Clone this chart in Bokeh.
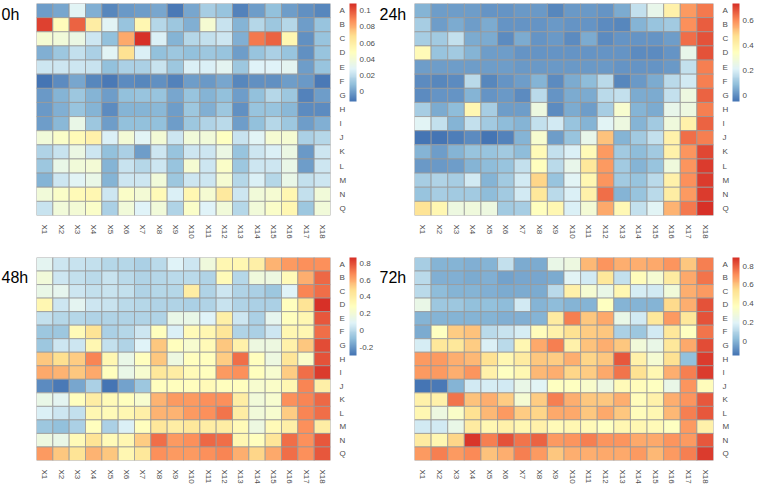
import math
from bokeh.plotting import figure
from bokeh.models import (LinearColorMapper, ColorBar, FixedTicker, Label, Range1d,
                          NumeralTickFormatter, ColumnDataSource, FactorRange)
from bokeh.layouts import gridplot
from bokeh.transform import transform
from bokeh.embed import file_html
from bokeh.resources import INLINE

cols = ["X1", "X2", "X3", "X4", "X5", "X6", "X7", "X8", "X9", "X10",
        "X11", "X12", "X13", "X14", "X15", "X16", "X17", "X18"]
rows = ["A", "B", "C", "D", "E", "F", "G", "H", "I", "J", "K", "L", "M", "N", "Q"]

v0h = [
    [0.000, 0.002, 0.030, 0.004, -0.007, -0.002, 0.000, 0.002, -0.010, 0.002, 0.014, 0.010, -0.008, 0.000, 0.009, 0.000, -0.004, -0.006],
    [0.105, 0.050, 0.097, 0.060, 0.030, 0.010, 0.054, 0.018, 0.012, 0.004, 0.042, 0.022, 0.006, 0.018, 0.012, 0.018, 0.000, 0.010],
    [0.042, 0.039, 0.036, 0.024, 0.009, 0.082, 0.109, 0.027, 0.006, 0.018, 0.021, 0.024, 0.004, 0.093, 0.097, 0.054, -0.004, 0.010],
    [0.004, 0.012, 0.021, 0.015, 0.030, 0.067, 0.027, 0.009, 0.012, 0.009, 0.012, 0.010, 0.000, 0.010, 0.015, 0.010, -0.004, 0.010],
    [0.024, 0.024, 0.024, 0.022, 0.009, 0.015, 0.015, 0.022, 0.012, 0.027, 0.027, 0.031, 0.012, 0.028, 0.028, 0.031, 0.000, 0.010],
    [-0.012, -0.005, 0.002, -0.006, -0.010, -0.005, -0.007, -0.004, -0.008, -0.001, -0.002, 0.002, -0.007, -0.004, -0.004, 0.000, -0.002, -0.010],
    [-0.002, 0.006, 0.012, 0.006, 0.000, 0.009, 0.010, 0.010, 0.002, 0.010, 0.006, 0.009, 0.000, 0.009, 0.018, 0.012, -0.008, 0.000],
    [-0.002, 0.004, 0.010, 0.006, -0.005, 0.005, 0.005, 0.007, -0.001, 0.012, 0.004, 0.012, -0.004, 0.010, 0.010, 0.007, -0.005, -0.005],
    [0.000, 0.007, 0.034, 0.012, -0.001, 0.009, 0.009, 0.009, -0.001, 0.012, 0.016, 0.019, -0.001, 0.009, 0.018, 0.012, 0.000, 0.004],
    [0.039, 0.045, 0.051, 0.057, 0.027, 0.041, 0.030, 0.041, 0.024, 0.039, 0.039, 0.048, 0.022, 0.030, 0.042, 0.042, 0.015, 0.018],
    [0.016, 0.022, 0.036, 0.024, 0.009, 0.015, 0.000, 0.024, 0.010, 0.024, 0.024, 0.036, 0.010, 0.024, 0.027, 0.036, -0.002, 0.024],
    [0.012, 0.034, 0.039, 0.041, 0.006, 0.022, 0.018, 0.024, 0.010, 0.042, 0.024, 0.046, 0.012, 0.024, 0.024, 0.034, 0.000, 0.024],
    [0.006, 0.024, 0.030, 0.034, 0.005, 0.024, 0.024, 0.039, 0.012, 0.024, 0.024, 0.042, 0.018, 0.027, 0.018, 0.034, 0.021, 0.024],
    [0.039, 0.045, 0.051, 0.054, 0.024, 0.045, 0.041, 0.052, 0.027, 0.054, 0.042, 0.063, 0.024, 0.039, 0.042, 0.054, 0.021, 0.039],
    [0.022, 0.039, 0.041, 0.045, 0.015, 0.039, 0.028, 0.039, 0.017, 0.045, 0.028, 0.039, 0.018, 0.039, 0.045, 0.054, 0.012, 0.039],
]

v24h = [
    [0.07, 0.03, 0.03, 0.03, 0.01, 0.01, 0.02, 0.02, -0.01, 0.02, 0.02, 0.01, 0.05, 0.165, 0.25, 0.405, 0.58, 0.63],
    [0.125, 0.03, 0.05, 0.025, 0.055, 0.01, 0.01, 0.01, 0.02, 0.01, 0.01, 0.0, -0.01, 0.065, 0.095, 0.11, 0.60, 0.67],
    [0.125, 0.11, 0.165, 0.055, 0.05, 0.0, 0.055, 0.01, 0.02, 0.0, 0.05, 0.0, 0.01, 0.01, 0.01, 0.03, 0.64, 0.68],
    [0.36, 0.095, 0.11, 0.065, 0.03, 0.025, 0.01, 0.01, 0.01, 0.01, 0.01, 0.01, 0.01, 0.0, 0.0, 0.01, 0.25, 0.68],
    [0.03, 0.025, 0.025, 0.025, 0.025, 0.025, 0.02, 0.02, 0.02, 0.02, 0.02, 0.02, 0.01, 0.01, 0.01, 0.02, 0.165, 0.62],
    [0.0, -0.01, 0.0, 0.15, -0.01, 0.01, 0.03, 0.065, 0.0, 0.055, 0.085, 0.15, -0.01, 0.02, 0.05, 0.15, 0.19, 0.62],
    [0.0, 0.01, 0.01, 0.07, 0.01, 0.02, 0.0, 0.15, 0.01, 0.055, 0.055, 0.15, 0.17, 0.055, 0.055, 0.17, 0.27, 0.66],
    [0.125, 0.055, 0.085, 0.38, 0.125, 0.025, 0.025, 0.27, 0.0, 0.05, 0.03, 0.125, 0.305, 0.07, 0.055, 0.25, 0.27, 0.62],
    [0.225, 0.17, 0.065, 0.17, 0.11, 0.085, 0.07, 0.17, 0.19, 0.095, 0.07, 0.225, 0.27, 0.07, 0.11, 0.28, 0.405, 0.66],
    [-0.046, -0.046, -0.023, 0.0, -0.04, -0.015, 0.065, 0.305, 0.03, 0.095, 0.25, 0.515, 0.065, 0.11, 0.17, 0.40, 0.64, 0.62],
    [0.065, 0.03, 0.07, 0.095, 0.095, 0.11, 0.085, 0.36, 0.17, 0.205, 0.36, 0.58, 0.11, 0.085, 0.11, 0.40, 0.59, 0.695],
    [0.02, 0.02, 0.03, 0.07, 0.085, 0.095, 0.165, 0.345, 0.15, 0.25, 0.44, 0.58, 0.11, 0.07, 0.095, 0.28, 0.59, 0.71],
    [0.125, 0.14, 0.125, 0.19, 0.07, 0.11, 0.19, 0.485, 0.095, 0.225, 0.38, 0.59, 0.11, 0.095, 0.15, 0.405, 0.60, 0.71],
    [0.095, 0.125, 0.11, 0.11, 0.085, 0.11, 0.19, 0.44, 0.15, 0.205, 0.40, 0.64, 0.07, 0.095, 0.15, 0.42, 0.58, 0.71],
    [0.46, 0.38, 0.27, 0.28, 0.27, 0.11, 0.125, 0.345, 0.38, 0.21, 0.29, 0.56, 0.37, 0.165, 0.225, 0.54, 0.63, 0.733],
]

v48h = [
    [0.11, 0.05, 0.03, 0.02, -0.01, -0.01, -0.04, 0.0, 0.09, 0.04, 0.19, 0.34, 0.34, 0.38, 0.58, 0.64, 0.66, 0.67],
    [0.20, 0.05, 0.02, 0.0, 0.03, 0.0, -0.02, -0.01, 0.0, 0.0, -0.02, 0.31, -0.01, 0.19, 0.17, 0.31, 0.60, 0.75],
    [0.145, 0.13, 0.05, 0.02, 0.03, 0.02, -0.02, -0.01, -0.01, 0.40, -0.02, 0.05, -0.02, -0.04, -0.07, 0.09, 0.69, 0.73],
    [0.34, 0.05, 0.11, 0.05, 0.03, 0.0, -0.01, -0.03, -0.03, -0.04, -0.02, 0.03, -0.03, -0.04, -0.04, 0.285, 0.46, 0.87],
    [0.02, -0.01, -0.01, -0.02, -0.02, -0.03, -0.03, -0.02, 0.145, 0.145, 0.09, 0.38, 0.05, -0.04, 0.13, 0.285, 0.34, 0.78],
    [-0.07, -0.07, 0.31, 0.46, -0.04, -0.01, 0.05, 0.285, 0.075, 0.32, 0.34, 0.44, -0.02, -0.04, 0.05, 0.34, 0.34, 0.73],
    [-0.07, 0.05, 0.05, 0.34, 0.02, -0.02, 0.09, 0.54, 0.285, 0.23, 0.31, 0.54, 0.37, 0.17, 0.17, 0.37, 0.54, 0.81],
    [0.54, 0.48, 0.52, 0.69, 0.34, 0.145, 0.285, 0.54, 0.17, 0.285, 0.285, 0.52, 0.73, 0.285, 0.17, 0.44, 0.26, 0.79],
    [0.61, 0.58, 0.54, 0.61, 0.285, 0.145, 0.23, 0.43, 0.40, 0.31, 0.285, 0.64, 0.67, 0.285, 0.23, 0.52, 0.73, 0.835],
    [-0.24, -0.28, -0.16, -0.04, -0.29, -0.18, -0.07, 0.285, 0.285, 0.285, 0.31, 0.285, 0.285, 0.23, 0.26, 0.34, 0.69, 0.38],
    [0.145, 0.11, 0.285, 0.40, 0.31, 0.285, 0.23, 0.58, 0.64, 0.64, 0.66, 0.66, 0.40, 0.20, 0.23, 0.67, 0.69, 0.75],
    [0.075, 0.05, 0.02, 0.34, 0.31, 0.34, 0.38, 0.58, 0.58, 0.64, 0.66, 0.72, 0.40, 0.20, 0.23, 0.52, 0.69, 0.73],
    [-0.07, -0.09, -0.04, 0.285, -0.04, 0.075, 0.285, 0.43, 0.40, 0.43, 0.40, 0.40, 0.31, 0.17, 0.31, 0.38, 0.66, 0.40],
    [0.17, 0.145, 0.31, 0.46, 0.31, 0.34, 0.52, 0.73, 0.64, 0.66, 0.75, 0.73, 0.34, 0.285, 0.44, 0.73, 0.67, 0.78],
    [0.64, 0.54, 0.46, 0.58, 0.54, 0.34, 0.43, 0.67, 0.64, 0.64, 0.67, 0.69, 0.60, 0.50, 0.61, 0.73, 0.67, 0.78],
]

v72h = [
    [0.08, 0.01, 0.01, -0.01, 0.0, 0.135, -0.02, -0.02, 0.25, 0.27, 0.63, 0.70, 0.65, 0.65, 0.66, 0.70, 0.60, 0.735],
    [0.114, -0.01, -0.01, -0.02, -0.01, -0.04, -0.03, -0.03, -0.02, 0.217, 0.166, 0.50, 0.135, 0.39, 0.32, 0.476, 0.66, 0.765],
    [0.114, 0.03, 0.01, 0.0, -0.01, -0.02, -0.02, -0.02, 0.114, 0.445, 0.32, 0.25, 0.424, 0.186, 0.166, 0.29, 0.65, 0.683],
    [0.25, 0.06, 0.06, 0.04, 0.04, 0.03, 0.166, 0.0, 0.03, 0.01, 0.01, 0.37, 0.01, 0.0, 0.0, 0.55, 0.65, 0.82],
    [0.01, 0.01, 0.0, 0.0, 0.0, -0.01, -0.01, 0.0, 0.476, 0.735, 0.60, 0.66, 0.25, 0.166, 0.50, 0.683, 0.50, 0.82],
    [-0.02, 0.37, 0.58, 0.61, 0.114, 0.145, 0.186, 0.39, 0.455, 0.528, 0.58, 0.60, 0.093, 0.06, 0.166, 0.50, 0.37, 0.765],
    [0.186, 0.507, 0.50, 0.58, 0.196, 0.114, 0.424, 0.66, 0.735, 0.455, 0.61, 0.65, 0.60, 0.29, 0.25, 0.507, 0.66, 0.838],
    [0.683, 0.683, 0.65, 0.631, 0.528, 0.424, 0.476, 0.60, 0.58, 0.65, 0.56, 0.60, 0.81, 0.455, 0.32, 0.528, 0.04, 0.86],
    [0.683, 0.683, 0.65, 0.70, 0.445, 0.37, 0.424, 0.631, 0.65, 0.56, 0.58, 0.66, 0.765, 0.528, 0.424, 0.65, 0.735, 0.86],
    [-0.145, -0.125, 0.01, 0.166, 0.186, 0.166, 0.25, 0.217, 0.37, 0.37, 0.34, 0.27, 0.40, 0.39, 0.37, 0.25, 0.70, 0.39],
    [0.445, 0.455, 0.765, 0.61, 0.65, 0.58, 0.32, 0.58, 0.735, 0.65, 0.60, 0.60, 0.65, 0.39, 0.445, 0.65, 0.70, 0.81],
    [0.424, 0.27, 0.35, 0.528, 0.631, 0.683, 0.58, 0.56, 0.66, 0.66, 0.60, 0.66, 0.60, 0.39, 0.424, 0.631, 0.735, 0.81],
    [0.166, 0.166, 0.25, 0.476, 0.424, 0.445, 0.424, 0.445, 0.40, 0.424, 0.40, 0.37, 0.424, 0.424, 0.40, 0.37, 0.683, 0.455],
    [0.476, 0.424, 0.56, 0.87, 0.735, 0.82, 0.765, 0.79, 0.683, 0.70, 0.735, 0.70, 0.70, 0.66, 0.66, 0.70, 0.683, 0.81],
    [0.683, 0.735, 0.683, 0.715, 0.61, 0.65, 0.735, 0.683, 0.60, 0.65, 0.65, 0.66, 0.66, 0.683, 0.631, 0.683, 0.735, 0.86],
]

titles = ["0h", "24h", "48h", "72h"]
scale_low = [-0.012, -0.046, -0.30, -0.145]
scale_high = [0.109, 0.733, 0.87, 0.89]
legend_ticks = [
    [0, 0.02, 0.04, 0.06, 0.08, 0.1],
    [0, 0.2, 0.4, 0.6],
    [-0.2, 0, 0.2, 0.4, 0.6, 0.8],
    [0, 0.2, 0.4, 0.6, 0.8],
]

# pheatmap default: colorRampPalette(rev(brewer.pal(7, "RdYlBu")))(100)
base = ["#4575B4", "#91BFDB", "#E0F3F8", "#FFFFBF", "#FEE090", "#FC8D59", "#D73027"]


def ramp(colors, n):
    rgb = [tuple(int(c[i:i + 2], 16) for i in (1, 3, 5)) for c in colors]
    out = []
    for k in range(n):
        t = k / (n - 1) * (len(rgb) - 1)
        i = min(int(t), len(rgb) - 2)
        f = t - i
        c = [round(rgb[i][j] + (rgb[i + 1][j] - rgb[i][j]) * f) for j in range(3)]
        out.append("#%02x%02x%02x" % tuple(c))
    return out


palette = ramp(base, 100)
FONT = "Liberation Sans"
LABEL_COLOR = "#4d4d4d"
FIG_H = 243
TITLE_W = 34
HEAT_W = 344


def make_title(text, top):
    # narrow strip left of a heatmap holding the panel's title
    t = figure(width=TITLE_W, height=FIG_H, x_range=Range1d(0, TITLE_W),
               y_range=Range1d(0, FIG_H), output_backend="svg", toolbar_location=None,
               x_axis_location=None, y_axis_location=None, min_border=0)
    t.grid.visible = False
    t.outline_line_color = None
    t.add_layout(Label(x=1, y=FIG_H - top - 10, text=text, text_font=FONT,
                       text_font_size="16px", text_color="black",
                       text_align="left", text_baseline="middle"))
    return t


def make_panel(vals, low, high, ticks, top, bottom):
    xs, ys, vs = [], [], []
    for r, rv in zip(rows, vals):
        for c, v in zip(cols, rv):
            xs.append(c)
            ys.append(r)
            vs.append(v)
    src = ColumnDataSource(dict(x=xs, y=ys, v=vs))
    mapper = LinearColorMapper(palette=palette, low=low, high=high)
    p = figure(width=HEAT_W, height=FIG_H, x_range=FactorRange(*cols),
               y_range=FactorRange(*rows[::-1]), output_backend="svg",
               toolbar_location=None, y_axis_location="right",
               min_border_left=2, min_border_right=42,
               min_border_top=top, min_border_bottom=bottom)
    p.rect(x="x", y="y", width=1, height=1, source=src,
           fill_color=transform("v", mapper), line_color="#999999", line_width=0.8)
    p.grid.visible = False
    p.outline_line_color = None
    p.background_fill_color = "white"

    for ax in (p.xaxis[0], p.yaxis[0]):
        ax.axis_line_color = None
        ax.major_tick_line_color = None
        ax.minor_tick_line_color = None
        ax.major_label_text_font = FONT
        ax.major_label_text_font_size = "8px"
        ax.major_label_text_color = LABEL_COLOR
        ax.major_label_standoff = 3
    p.xaxis[0].major_label_orientation = -math.pi / 2

    cb = ColorBar(color_mapper=mapper, ticker=FixedTicker(ticks=ticks),
                  formatter=NumeralTickFormatter(format="0.[00]"),
                  width=7, height=98, location="top_left", padding=0, margin=3,
                  major_label_text_font=FONT, major_label_text_font_size="8px",
                  major_label_text_color=LABEL_COLOR,
                  major_tick_line_color=None, minor_tick_line_color=None,
                  bar_line_color=None, label_standoff=3,
                  background_fill_color=None, border_line_color=None)
    p.add_layout(cb, "right")
    return p


TOP_ROW = (3, 28)
BOTTOM_ROW = (14, 17)

t1 = make_title(titles[0], TOP_ROW[0])
t2 = make_title(titles[1], TOP_ROW[0])
t3 = make_title(titles[2], BOTTOM_ROW[0])
t4 = make_title(titles[3], BOTTOM_ROW[0])
p1 = make_panel(v0h, scale_low[0], scale_high[0], legend_ticks[0], *TOP_ROW)
p2 = make_panel(v24h, scale_low[1], scale_high[1], legend_ticks[1], *TOP_ROW)
p3 = make_panel(v48h, scale_low[2], scale_high[2], legend_ticks[2], *BOTTOM_ROW)
p4 = make_panel(v72h, scale_low[3], scale_high[3], legend_ticks[3], *BOTTOM_ROW)

grid = gridplot([[t1, p1, t2, p2], [t3, p3, t4, p4]], toolbar_location=None)

with open("out.html", "w") as f:
    f.write(file_html(grid, INLINE))
